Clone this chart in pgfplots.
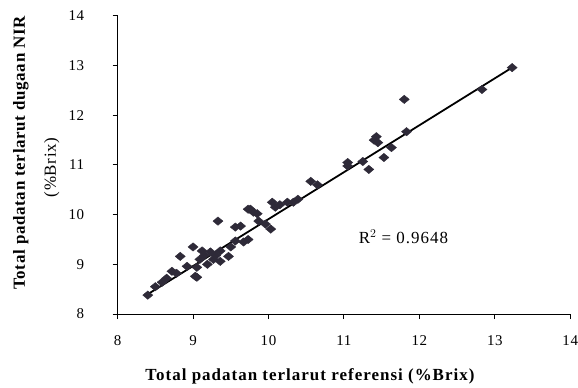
\documentclass[border=0pt]{standalone}
\usepackage{pgfplots}
\pgfplotsset{compat=1.18}
\usepackage{fontspec}
\setmainfont{Liberation Serif}
\definecolor{pt}{HTML}{2E2A38}
\begin{document}
\begin{tikzpicture}
\begin{axis}[
  scale only axis,
  width=454pt, height=299pt,
  xmin=8, xmax=14, ymin=8, ymax=14,
  xtick={8,...,14}, ytick={8,...,14},
  axis lines=left,
  axis line style={-, line width=1pt},
  tick align=outside,
  major tick length=5pt,
  tick style={line width=1pt, black},
  /pgf/number format/assume math mode=true,
  ticklabel style={font=\fontsize{15}{16}\selectfont\addfontfeatures{LetterSpace=4}},
  xticklabel style={yshift=-13pt, inner xsep=0pt},
  yticklabel style={xshift=-25pt},
  xlabel={\textbf{Total padatan terlarut referensi (\%Brix)}},
  xlabel style={font=\fontsize{17}{18}\selectfont\addfontfeatures{LetterSpace=6},
    at={(axis description cs:0.426,-0.224)}, anchor=base},
  ylabel={\textbf{Total padatan terlarut dugaan NIR}\\\mbox{(\%Brix)\hspace{30pt}}},
  ylabel style={font=\fontsize{17}{31}\selectfont\addfontfeatures{LetterSpace=4}, align=center,
    at={(axis description cs:-0.2385,0.542)}, anchor=north, rotate=0},
  clip=false,
]
\path (rel axis cs:-0.2599,1.0535) (rel axis cs:1.0132,-0.2341);
\addplot[only marks, mark=diamond*, mark size=4.2pt, color=pt,
  mark options={xscale=1.6}] coordinates {
(8.40,8.38) (8.50,8.55) (8.59,8.64) (8.65,8.72) (8.72,8.86) (8.78,8.82) (8.83,9.16) (8.92,8.96)
(9.00,9.35) (9.12,9.27) (9.23,9.25) (9.36,9.27) (9.47,9.16) (9.30,9.18)
(9.09,9.10) (9.05,8.94) (9.03,8.76) (9.27,9.10) (9.36,9.06) (9.15,9.18)
(9.19,9.00) (9.56,9.47) (9.05,8.74) (9.33,9.87) (9.50,9.35)
(9.73,10.11) (9.80,10.05) (10.05,10.25) (10.09,10.15) (9.63,9.77)
(9.87,9.87) (9.96,9.81) (10.03,9.71) (9.73,9.50) (9.56,9.75)
(9.67,9.45) (9.76,10.11) (9.85,10.02) (10.25,10.25) (10.39,10.31) (10.15,10.2)
(10.56,10.67) (10.65,10.60) (10.33,10.25)
(11.05,11.05) (11.05,10.98) (11.25,11.07) (11.33,10.91) (11.53,11.15)
(11.43,11.57) (11.45,11.45) (11.63,11.35) (11.83,11.67) (11.40,11.50)
(11.80,12.32) (12.83,12.52) (13.23,12.96)
};
\addplot[black, line width=1.8pt] coordinates {(8.38,8.38) (13.25,12.98)};
\node[anchor=west, font=\fontsize{17}{18}\selectfont\addfontfeatures{LetterSpace=6}] at (axis cs:11.15,9.55) {R$^2$ = 0.9648};
\end{axis}
\end{tikzpicture}
\end{document}
